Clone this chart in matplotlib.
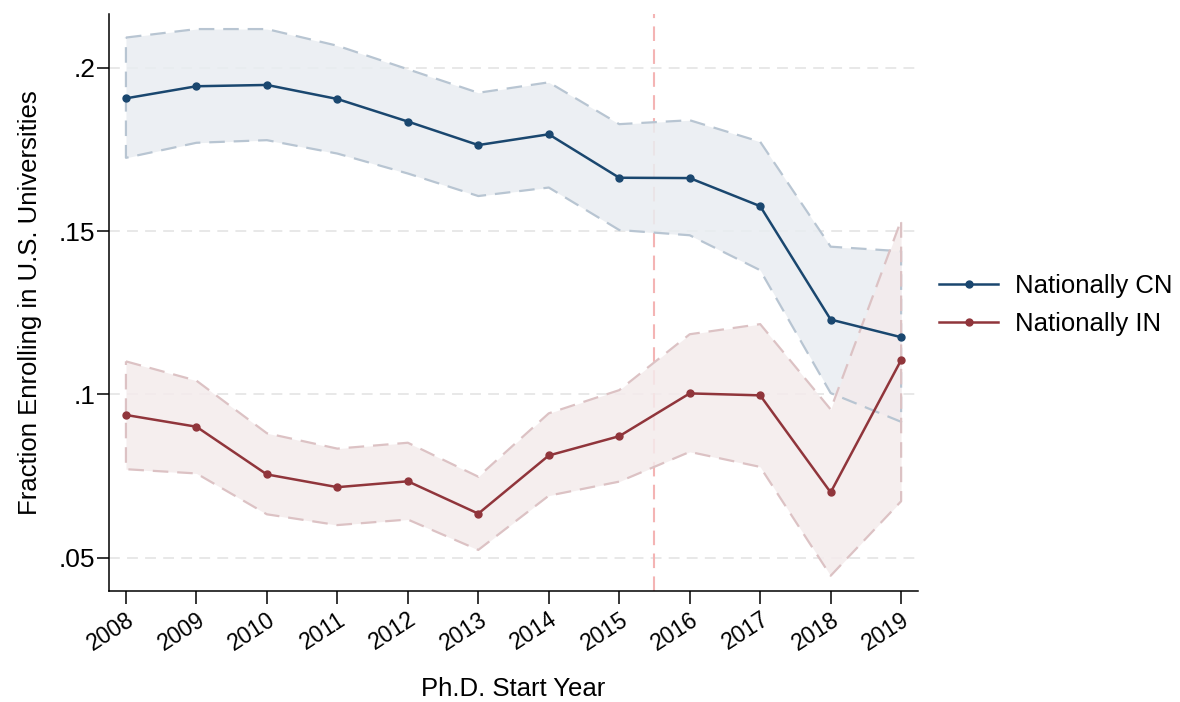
import matplotlib
matplotlib.use("Agg")
import matplotlib.pyplot as plt
from matplotlib.lines import Line2D

plt.rcParams["font.family"] = ["Liberation Sans", "DejaVu Sans"]

years = [2008, 2009, 2010, 2011, 2012, 2013, 2014, 2015, 2016, 2017, 2018, 2019]

cn_mean = [0.1906, 0.1943, 0.1947, 0.1904, 0.1835, 0.1763, 0.1796, 0.1663, 0.1662, 0.1576, 0.1229, 0.1175]
cn_upper = [0.2092, 0.2118, 0.2118, 0.2067, 0.1995, 0.1923, 0.1955, 0.1827, 0.1839, 0.1773, 0.1452, 0.1438]
cn_lower = [0.1724, 0.1770, 0.1778, 0.1737, 0.1676, 0.1607, 0.1633, 0.1503, 0.1487, 0.1380, 0.1004, 0.0916]

in_mean = [0.0937, 0.0901, 0.0755, 0.0716, 0.0734, 0.0635, 0.0813, 0.0872, 0.1003, 0.0997, 0.0700, 0.1105]
in_upper = [0.1101, 0.1042, 0.0881, 0.0834, 0.0852, 0.0748, 0.0942, 0.1013, 0.1184, 0.1215, 0.0954, 0.1533]
in_lower = [0.0771, 0.0758, 0.0633, 0.0600, 0.0617, 0.0524, 0.0690, 0.0733, 0.0824, 0.0778, 0.0445, 0.0673]

y_ticks = [0.05, 0.10, 0.15, 0.20]
y_tick_labels = [".05", ".1", ".15", ".2"]
policy_year = 2015.5

navy = "#1a476f"
maroon = "#90353b"

fig = plt.figure(figsize=(11.8, 7.02), dpi=100)
ax = fig.add_axes([0.0924, 0.158, 0.6856, 0.822])

for y in y_ticks:
    ax.axhline(y, color="#e6e6e6", lw=1.3, ls=(0, (6, 4)), zorder=0)

ax.axvline(policy_year, color="#f4b4b4", lw=1.5, ls=(0, (7, 4)), zorder=1)

series = [
    (cn_mean, cn_lower, cn_upper, navy, "#e9edf1", "#b8c5d2", "Nationally CN"),
    (in_mean, in_lower, in_upper, maroon, "#f4ebec", "#dcc2c4", "Nationally IN"),
]
handles = []
for mean, lo, hi, color, fill, edge, label in series:
    ax.fill_between(years, lo, hi, color=fill, alpha=0.85, lw=0, zorder=1)
    band_x = years + years[::-1] + [years[0]]
    band_y = hi + lo[::-1] + [hi[0]]
    ax.plot(band_x, band_y, color=edge, lw=1.6, ls=(0, (7, 4)), zorder=2)
    ax.plot(years, mean, color=color, lw=1.8, marker="o", ms=5, zorder=3)
    handles.append(Line2D([], [], color=color, lw=1.8, marker="o", ms=5, label=label))

ax.set_xlim(2007.76, 2019.24)
ax.set_ylim(0.0398, 0.2164)
ax.set_xticks(years)
ax.set_xticklabels([str(y) for y in years], rotation=33, ha="right", rotation_mode="anchor")
ax.set_yticks(y_ticks)
ax.set_yticklabels(y_tick_labels)
ax.tick_params(axis="both", length=9, width=1.1)
ax.tick_params(axis="x", labelsize=16.5, pad=3)
ax.tick_params(axis="y", labelsize=19, pad=1)

for side in ("top", "right"):
    ax.spines[side].set_visible(False)
for side in ("left", "bottom"):
    ax.spines[side].set_linewidth(1.1)

ax.set_xlabel("Ph.D. Start Year", fontsize=18.5, labelpad=16)
ax.set_ylabel("Fraction Enrolling in U.S. Universities", fontsize=18.5, labelpad=12)

fig.legend(handles=handles, loc="center left", bbox_to_anchor=(0.7958, 0.566),
           frameon=False, fontsize=18.5, handlelength=2.3, handletextpad=0.65,
           labelspacing=0.55, borderpad=0, borderaxespad=0)

fig.savefig("out.png", dpi=100)
